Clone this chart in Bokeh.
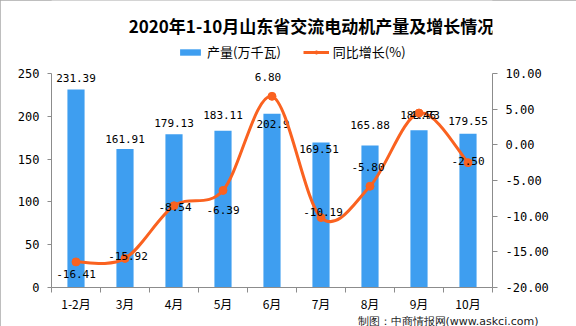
import numpy as np
from bokeh.plotting import figure
from bokeh.models import (Range1d, LinearAxis, FixedTicker, ColumnDataSource, Legend,
                          LegendItem, Title, Label, NumeralTickFormatter)
from bokeh.core.properties import value
from bokeh.embed import file_html
from bokeh.resources import INLINE

# ---------------- data ----------------
categories = ["1-2月", "3月", "4月", "5月", "6月", "7月", "8月", "9月", "10月"]
output = [231.39, 161.91, 179.13, 183.11, 202.9, 169.51, 165.88, 183.73, 179.55]
growth = [-16.41, -15.92, -8.54, -6.39, 6.80, -10.19, -5.80, 4.46, -2.50]
output_labels = ["231.39", "161.91", "179.13", "183.11", "202.9", "169.51", "165.88", "183.73", "179.55"]
growth_labels = ["-16.41", "-15.92", "-8.54", "-6.39", "6.80", "-10.19", "-5.80", "4.46", "-2.50"]
left_ticks = [0, 50, 100, 150, 200, 250]
right_ticks = [-20, -15, -10, -5, 0, 5, 10]
left_bounds = (0, 250)
right_bounds = (-20, 10)

# label placement (pixels, +down)
bar_label_dy = [-11, -10, -11, -16, 10, 7, -21, -15, -13]
bar_label_dx = [0, 0, 0, 0, 1, -2, 0, 1, 0]
line_label_dx = [0, 3, 1, 0, -4, 2, -2, 4, 0]
line_label_dy = [12, -2, 1, 20, -19, -6, -19, 2, -2]

BAR_COLOR = "#3e9ef0"
LINE_COLOR = "#fa6220"
AXIS_COLOR = "#8c8c8c"
NUM_FONT = "DejaVu Sans Mono"
CJK_FONT = "Noto Sans CJK SC"

# layout: the frame spans the whole height above the x axis; the value axes
# occupy its lower FRAME_H - TOP_PX pixels, the header sits in the rest.
FRAME_W, FRAME_H, TOP_PX = 441, 287, 73
scale_span = FRAME_H / (FRAME_H - TOP_PX)
left_range = Range1d(left_bounds[0], left_bounds[0] + (left_bounds[1] - left_bounds[0]) * scale_span)
right_range = Range1d(right_bounds[0], right_bounds[0] + (right_bounds[1] - right_bounds[0]) * scale_span)

n = len(categories)
idx = list(range(n))

p = figure(frame_width=FRAME_W, frame_height=FRAME_H,
           min_border_left=51, min_border_right=84, min_border_top=0, min_border_bottom=39,
           x_range=Range1d(-0.5, n - 0.5), y_range=left_range,
           output_backend="svg", toolbar_location=None, tools="")
p.extra_y_ranges = {"growth": right_range}
p.styles = {"outline": "1px solid #a8a8a8", "outline-offset": "-1px"}
p.background_fill_color = "white"
p.border_fill_color = "white"
p.outline_line_color = None
p.xgrid.visible = False
p.ygrid.visible = False

# bars
bar_src = ColumnDataSource(dict(x=idx, top=output, lab=output_labels,
                                dx=bar_label_dx, dy=bar_label_dy))
bars = p.vbar(x="x", top="top", width=0.35, bottom=0, source=bar_src,
              fill_color=BAR_COLOR, line_color=None)
p.text(x="x", y="top", text="lab", source=bar_src, x_offset="dx", y_offset="dy",
       text_align="center", text_baseline="middle", text_font=value(NUM_FONT),
       text_font_size="11px", text_color="black")

# smooth growth line (cubic bezier segments through the data points)
P = np.column_stack([np.array(idx, dtype=float), np.array(growth, dtype=float)])
x0, y0, x1, y1, cx0, cy0, cx1, cy1 = ([] for _ in range(8))
for i in range(n - 1):
    p0 = P[max(i - 1, 0)]
    p1 = P[i]
    p2 = P[i + 1]
    p3 = P[min(i + 2, n - 1)]
    c0 = p1 + (p2 - p0) / 6.0
    c1 = p2 - (p3 - p1) / 6.0
    x0.append(p1[0]); y0.append(p1[1]); x1.append(p2[0]); y1.append(p2[1])
    cx0.append(c0[0]); cy0.append(c0[1]); cx1.append(c1[0]); cy1.append(c1[1])
curve = p.bezier(x0=x0, y0=y0, x1=x1, y1=y1, cx0=cx0, cy0=cy0, cx1=cx1, cy1=cy1,
                 y_range_name="growth", line_color=LINE_COLOR, line_width=3)

line_src = ColumnDataSource(dict(x=idx, y=growth, lab=growth_labels,
                                 dx=line_label_dx, dy=line_label_dy))
dots = p.scatter(x="x", y="y", source=line_src, y_range_name="growth", size=8,
                 fill_color=LINE_COLOR, line_color=LINE_COLOR)
p.text(x="x", y="y", text="lab", source=line_src, y_range_name="growth",
       x_offset="dx", y_offset="dy", text_align="center", text_baseline="middle",
       text_font=value(NUM_FONT), text_font_size="11px", text_color="black")

# axes
xa = p.xaxis[0]
xa.ticker = FixedTicker(ticks=idx, minor_ticks=[i - 0.5 for i in range(n + 1)])
xa.major_label_overrides = {i: c for i, c in enumerate(categories)}
xa.major_tick_out = 0
xa.major_tick_in = 0
xa.minor_tick_out = 5
xa.minor_tick_in = 0
xa.minor_tick_line_color = AXIS_COLOR
xa.axis_line_color = AXIS_COLOR
xa.major_label_standoff = 2
xa.major_label_text_font = CJK_FONT
xa.major_label_text_font_size = "12px"
xa.major_label_text_color = "black"

ya = p.yaxis[0]
ya.ticker = FixedTicker(ticks=left_ticks, minor_ticks=[])
ya.bounds = left_bounds
ya.major_tick_out = 4
ya.major_tick_in = 0
ya.major_tick_line_color = AXIS_COLOR
ya.axis_line_color = AXIS_COLOR
ya.major_label_standoff = 8
ya.major_label_text_font = NUM_FONT
ya.major_label_text_font_size = "12px"
ya.major_label_text_color = "black"

ra = LinearAxis(y_range_name="growth", ticker=FixedTicker(ticks=right_ticks, minor_ticks=[]),
                formatter=NumeralTickFormatter(format="0.00"), bounds=right_bounds)
ra.major_tick_out = 5
ra.major_tick_in = 0
ra.major_tick_line_color = AXIS_COLOR
ra.axis_line_color = AXIS_COLOR
ra.major_label_standoff = 8
ra.major_label_text_font = NUM_FONT
ra.major_label_text_font_size = "12px"
ra.major_label_text_color = "black"
p.add_layout(ra, "right")

# legend (in the header strip of the frame)
legend = Legend(items=[LegendItem(label="产量(万千瓦)", renderers=[bars]),
                       LegendItem(label="同比增长(%)", renderers=[curve, dots])],
                orientation="horizontal", location=(126, 226),
                glyph_width=26, glyph_height=8, label_standoff=4, spacing=22,
                padding=0, margin=0, border_line_color=None, background_fill_alpha=0,
                label_text_font=CJK_FONT, label_text_font_size="13px",
                label_text_color="black")
p.add_layout(legend, "center")

# title
p.add_layout(Label(x=260, y=262, x_units="screen", y_units="screen",
                   text="2020年1-10月山东省交流电动机产量及增长情况",
                   text_align="center", text_baseline="middle", text_font=CJK_FONT,
                   text_font_style="bold", text_font_size="17px", text_color="black"))

# source note
p.add_layout(Title(text="制图：中商情报网(www.askci.com)", align="right", offset=-46,
                   standoff=0, vertical_align="top", text_font="DejaVu Sans",
                   text_font_style="normal", text_font_size="11px",
                   text_color="#1a1a1a"), "below")

open("out.html", "w").write(file_html(p, INLINE))
